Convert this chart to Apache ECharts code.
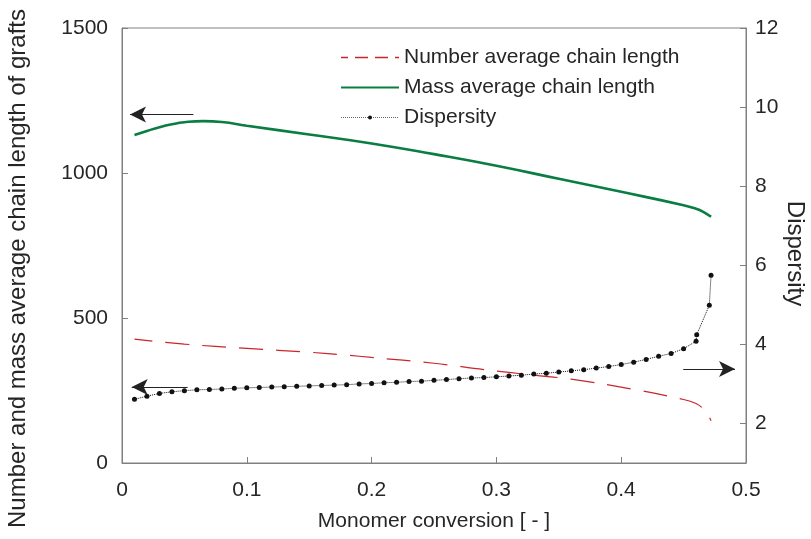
<!DOCTYPE html>
<html>
<head>
<meta charset="utf-8">
<script src="https://cdn.jsdelivr.net/npm/echarts@6/dist/echarts.min.js"></script>
<style>html,body{margin:0;padding:0;background:#fff}#c{width:811px;height:539px}</style>
</head>
<body>
<div id="c"></div>
<script>
// ---- data ----
var massX   = [0.01, 0.02, 0.03, 0.04, 0.05, 0.065, 0.08, 0.10, 0.15, 0.20, 0.25, 0.30, 0.35, 0.40, 0.45, 0.46, 0.465, 0.472];
var massY   = [1131, 1145, 1158, 1168, 1175, 1179, 1176, 1163, 1133, 1102, 1065, 1025, 980, 935, 889, 877, 868, 849];

var numX    = [0.01, 0.05, 0.10, 0.15, 0.18, 0.20, 0.25, 0.29, 0.33, 0.36, 0.41, 0.45, 0.46, 0.465, 0.469, 0.472];
var numY    = [427, 410, 395, 382, 372, 364, 344, 322, 303, 289, 254, 219, 205, 190, 170, 146];

var dispX   = [0.01,0.02,0.03,0.04,0.05,0.06,0.07,0.08,0.09,0.10,0.11,0.12,0.13,0.14,0.15,0.16,0.17,0.18,0.19,0.20,
               0.21,0.22,0.23,0.24,0.25,0.26,0.27,0.28,0.29,0.30,0.31,0.32,0.33,0.34,0.35,0.36,0.37,0.38,0.39,0.40,
               0.41,0.42,0.43,0.44,0.45,0.46,0.4605,0.4706,0.472];
var dispY   = [2.61,2.69,2.76,2.80,2.83,2.85,2.86,2.87,2.89,2.90,2.91,2.92,2.93,2.94,2.95,2.96,2.97,2.98,3.00,3.01,
               3.03,3.04,3.06,3.07,3.09,3.11,3.13,3.15,3.16,3.18,3.20,3.22,3.25,3.27,3.30,3.33,3.36,3.40,3.44,3.49,
               3.55,3.62,3.70,3.77,3.89,4.08,4.24,4.99,5.75];

var xTicks     = [0, 0.1, 0.2, 0.3, 0.4, 0.5];
var leftTicks  = [0, 500, 1000, 1500];
var rightTicks = [2, 4, 6, 8, 10, 12];

var seriesNames = ['Number average chain length', 'Mass average chain length', 'Dispersity'];
var xName = 'Monomer conversion [ - ]';
var leftName = 'Number and mass average chain length of grafts';
var rightName = 'Dispersity';

// arrows (data coordinates: tail, tip)
var arrowTopLeft    = [[0.0572, 1202], [0.0064, 1202]];
var arrowBottomLeft = [[0.0526, 262], [0.0078, 262]];
var arrowRight      = [[0.4497, 3.38], [0.4912, 3.38]];

function pairs(xs, ys) { return xs.map(function (x, i) { return [x, ys[i]]; }); }

var FONT = '"Liberation Sans", Arial, Helvetica, sans-serif';
var TXT = '#262626';
var AX = '#808080';
var RED = '#c8262b';
var GREEN = '#0a7d43';
var plain = function (v) { return String(v); };

function arrowML(a) {
  return {
    silent: true,
    symbol: ['none', 'arrow'],
    symbolSize: [12, 16],
    label: { show: false },
    lineStyle: { color: '#222', width: 1, type: 'solid' },
    itemStyle: { color: '#111' },
    emphasis: { disabled: true },
    data: [[{ coord: a[0] }, { coord: a[1] }]]
  };
}

var chart = echarts.init(document.getElementById('c'), null, { renderer: 'canvas' });
chart.setOption({
  animation: false,
  backgroundColor: '#fff',
  grid: { left: 122, right: 65, top: 28, bottom: 76, outerBoundsMode: 'none', containLabel: false,
          show: true, borderColor: AX, borderWidth: 1, backgroundColor: 'transparent' },
  legend: {
    orient: 'vertical', left: 340, top: 47, padding: 0, itemWidth: 58, itemHeight: 5, itemGap: 9,
    textStyle: { fontFamily: FONT, fontSize: 21, color: TXT },
    data: [
      { name: seriesNames[0], lineStyle: { type: [13, 7], width: 1.3, color: RED }, itemStyle: { color: 'rgba(0,0,0,0)', borderWidth: 0 } },
      { name: seriesNames[1], lineStyle: { width: 2, color: GREEN }, itemStyle: { color: 'rgba(0,0,0,0)', borderWidth: 0 } },
      { name: seriesNames[2], lineStyle: { width: 1, color: '#666' } }
    ]
  },
  xAxis: {
    type: 'value', min: 0, max: 0.5, interval: 0.1,
    name: xName, nameLocation: 'middle', nameGap: 48, nameMoveOverlap: false,
    nameTextStyle: { fontFamily: FONT, fontSize: 21, color: TXT },
    axisLine: { show: true, lineStyle: { color: AX, width: 1 } },
    axisTick: { show: true, inside: true, length: 6, lineStyle: { color: AX }, customValues: xTicks },
    axisLabel: { fontFamily: FONT, fontSize: 21, color: TXT, margin: 17, customValues: xTicks, formatter: plain },
    splitLine: { show: false }
  },
  yAxis: [
    {
      type: 'value', min: 0, max: 1500, interval: 500, position: 'left',
      name: leftName, nameLocation: 'middle', nameGap: 92, nameRotate: 90, nameMoveOverlap: false,
      nameTextStyle: { fontFamily: FONT, fontSize: 24, color: TXT, padding: [0, 46, 0, 0] },
      axisLine: { show: true, lineStyle: { color: AX, width: 1 } },
      axisTick: { show: true, inside: true, length: 6, lineStyle: { color: AX }, customValues: leftTicks },
      axisLabel: { fontFamily: FONT, fontSize: 21, color: TXT, margin: 14, customValues: leftTicks, formatter: plain },
      splitLine: { show: false }
    },
    {
      type: 'value', min: 1, max: 12, position: 'right',
      name: rightName, nameLocation: 'middle', nameGap: 37, nameRotate: -90, nameMoveOverlap: false,
      nameTextStyle: { fontFamily: FONT, fontSize: 24, color: TXT, padding: [0, 0, 0, 16] },
      axisLine: { show: true, lineStyle: { color: AX, width: 1 } },
      axisTick: { show: true, inside: true, length: 6, lineStyle: { color: AX }, customValues: rightTicks },
      axisLabel: { fontFamily: FONT, fontSize: 21, color: TXT, margin: 9, customValues: rightTicks, formatter: plain },
      splitLine: { show: false }
    }
  ],
  series: [
    {
      name: seriesNames[0], type: 'line', yAxisIndex: 0, data: pairs(numX, numY),
      showSymbol: false, symbol: 'none', smooth: 0.4,
      lineStyle: { color: RED, width: 1.2, type: [24, 13], dashOffset: 6 },
      itemStyle: { color: RED }, z: 3,
      markLine: arrowML(arrowBottomLeft)
    },
    {
      name: seriesNames[1], type: 'line', yAxisIndex: 0, data: pairs(massX, massY),
      showSymbol: false, symbol: 'none', smooth: 0.5,
      lineStyle: { color: GREEN, width: 2.6 },
      itemStyle: { color: GREEN }, z: 3,
      markLine: arrowML(arrowTopLeft)
    },
    {
      name: seriesNames[2], type: 'line', yAxisIndex: 1, data: pairs(dispX, dispY),
      symbol: 'circle', symbolSize: 5, showSymbol: true,
      lineStyle: { color: '#111', width: 1, type: 'dotted' },
      itemStyle: { color: '#111' }, z: 4,
      markLine: arrowML(arrowRight)
    }
  ]
});
</script>
</body>
</html>
